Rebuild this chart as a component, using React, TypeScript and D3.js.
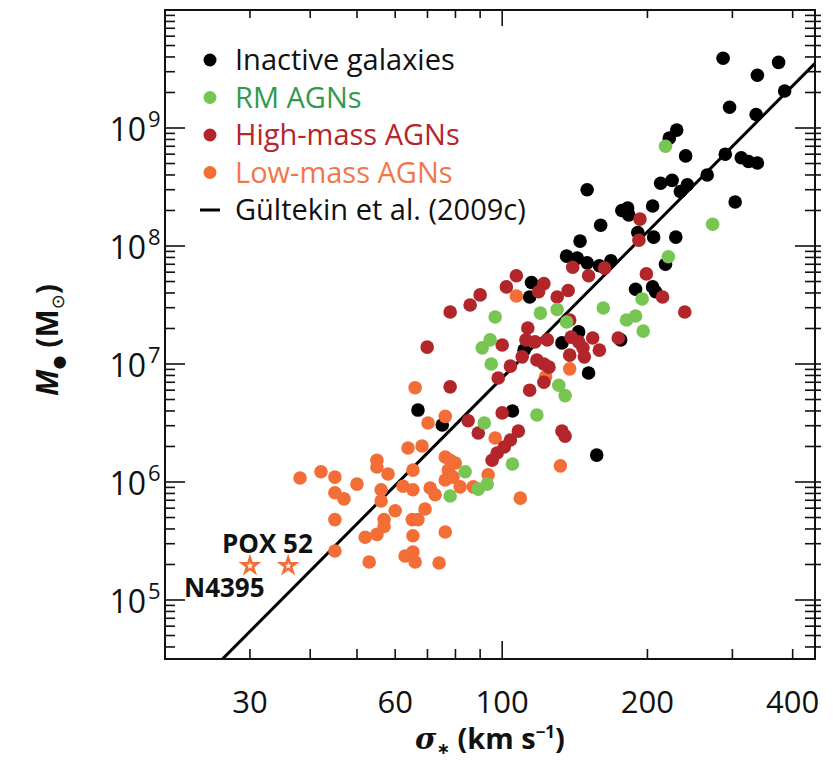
import React from "react";
import * as d3 from "d3";

// sigma (km/s), black-hole mass (Msun)
const inactive: [number, number][] = [
  [287, 3.9e9], [374, 3.6e9], [338, 2.8e9], [385, 2.06e9], [296, 1.5e9], [336, 1.3e9],
  [230, 9.6e8], [222, 8.2e8], [240, 5.8e8], [290, 6.0e8], [313, 5.6e8], [324, 5.2e8],
  [338, 5.05e8], [213, 3.4e8], [225, 3.6e8], [242, 3.3e8], [234, 2.9e8], [266, 4.0e8],
  [150, 3.0e8], [304, 2.36e8], [205, 2.18e8], [177, 2.0e8], [182, 2.1e8], [183, 1.83e8],
  [160, 1.5e8], [191, 1.3e8], [206, 1.19e8], [229, 1.19e8], [145, 1.1e8], [136, 8.2e7],
  [143, 7.9e7], [150, 7.2e7], [168, 7.5e7], [159, 6.8e7], [218, 7.0e7], [115, 4.9e7],
  [189, 4.3e7], [205, 4.5e7], [208, 4.1e7], [114, 3.7e7], [144, 1.87e7], [133, 1.51e7],
  [111, 1.31e7], [176, 1.6e7], [151, 8.4e6], [105, 4.0e6], [157, 1.69e6], [66.9, 4.07e6],
  [75.1, 3.04e6],
];

const rmAgn: [number, number][] = [
  [218, 7.0e8], [273, 1.53e8], [221, 8.1e7], [120, 2.7e7], [130, 2.9e7], [136, 2.27e7],
  [162, 2.98e7], [195, 3.56e7], [181, 2.36e7], [189, 2.55e7], [196, 1.9e7], [131, 6.6e6],
  [135, 5.4e6], [118, 3.7e6], [105, 1.42e6], [96.7, 2.5e7], [94.4, 1.6e7], [90.9, 1.37e7],
  [94.9, 1.0e7], [91.8, 3.16e6], [83.8, 1.22e6], [78.0, 7.6e5], [89.2, 8.7e5], [93.1, 9.6e5],
];

const highMass: [number, number][] = [
  [193, 1.69e8], [192, 1.12e8], [140, 6.6e7], [151, 5.6e7], [163, 6.5e7], [199, 5.8e7],
  [107, 5.6e7], [102, 4.5e7], [122, 4.8e7], [137, 4.2e7], [119, 4.1e7], [130, 3.7e7],
  [215, 3.7e7], [239, 2.76e7], [138, 2.36e7], [113, 2.02e7], [112, 1.6e7], [100, 1.45e7],
  [117, 1.54e7], [124, 1.6e7], [139, 1.69e7], [144, 1.54e7], [154, 1.66e7], [159, 1.31e7],
  [147, 1.37e7], [138, 1.19e7], [148, 1.15e7], [174, 1.66e7], [110, 1.15e7], [104, 9.6e6],
  [118, 1.08e7], [122, 1.0e7], [125, 9.4e6], [98.1, 7.6e6], [122, 7.0e6], [114, 6.0e6],
  [100, 3.85e6], [108, 2.7e6], [104, 2.27e6], [101, 1.98e6], [97.6, 1.76e6], [95.3, 1.53e6],
  [133, 2.7e6], [135, 2.45e6], [90.0, 3.85e7], [85.8, 3.16e7], [78.0, 2.76e7], [69.9, 1.39e7],
  [78.0, 6.4e6], [85.0, 3.3e6], [89.2, 2.6e6],
];

const lowMass: [number, number][] = [
  [107, 3.77e7], [138, 9.1e6], [123, 7.8e6], [132, 1.37e6], [66.0, 6.3e6], [76.2, 3.6e6],
  [70.2, 3.16e6], [96.7, 2.36e6], [63.8, 1.94e6], [68.2, 2.02e6], [55.0, 1.53e6], [55.0, 1.34e6],
  [58.0, 1.17e6], [65.3, 1.26e6], [76.2, 1.63e6], [78.0, 1.53e6], [79.9, 1.45e6], [77.3, 1.26e6],
  [38.1, 1.08e6], [42.1, 1.22e6], [45.0, 1.1e6], [50.0, 9.6e5], [45.0, 8.1e5], [47.0, 7.2e5],
  [62.3, 9.2e5], [65.3, 8.6e5], [56.1, 8.6e5], [56.1, 6.9e5], [70.9, 8.9e5], [72.6, 7.8e5],
  [76.2, 1.04e6], [79.1, 1.1e6], [81.8, 9.1e5], [60.0, 5.7e5], [56.9, 4.8e5], [56.9, 4.2e5],
  [55.0, 3.6e5], [52.0, 3.4e5], [65.1, 4.8e5], [66.9, 4.8e5], [69.2, 5.9e5], [65.3, 3.5e5],
  [45.0, 4.8e5], [45.0, 2.6e5], [53.0, 2.1e5], [62.9, 2.36e5], [65.3, 2.55e5], [66.0, 2.1e5],
  [74.0, 2.06e5], [76.2, 3.77e5], [87.1, 9.1e5], [93.5, 1.15e6], [109, 7.3e5],
];

const specialNames = ["N4395", "POX 52"];
const specialSigma = [30, 36];
const specialMass = [1.95e5, 1.95e5];

const xTickValues = [30, 40, 50, 60, 70, 80, 90, 100, 200, 300, 400];
const xMajorTicks = [100];
const xTickLabels = [30, 60, 100, 200, 400];
const yTickExponents = [5, 6, 7, 8, 9];

// Gültekin et al. (2009c) relation as drawn: log M = alpha + beta log(sigma/200)
const fitAlpha = 8.12;
const fitBeta = 4.11;

const legendLabels = ["Inactive galaxies", "RM AGNs", "High-mass AGNs", "Low-mass AGNs", "Gültekin et al. (2009c)"];
const dotColors = ["#000000", "#77c653", "#b2252a", "#f26e36"];
const textColors = ["#111111", "#2f9a4b", "#b5252b", "#f07848", "#111111"];

const W = 835, H = 763;
const L = 165, R = 815, T = 10, B = 659;
const FONT = "'Open Sans', 'DejaVu Sans', sans-serif";

export default function App() {
  const x = d3.scaleLog().domain([20, 445]).range([L, R]);
  const y = d3.scaleLog().domain([Math.pow(10, 4.5), 1e10]).range([B, T]);

  const yTicks: { v: number; major: boolean }[] = [];
  for (let e = 4; e <= 9; e++) {
    for (let k = 1; k <= 9; k++) {
      const v = k * Math.pow(10, e);
      if (v >= Math.pow(10, 4.5) && v < 1e10) yTicks.push({ v, major: k === 1 });
    }
  }

  const fitLine = d3.line<number>()
    .x((s) => x(s))
    .y((s) => y(Math.pow(10, fitAlpha + fitBeta * Math.log10(s / 200))));

  const series = [inactive, lowMass, highMass, rmAgn];
  const seriesColor = [dotColors[0], dotColors[3], dotColors[2], dotColors[1]];
  const star = d3.symbol().type(d3.symbolStar).size(70)();

  return (
    <svg width={W} height={H} style={{ position: "absolute", left: 0, top: 0, background: "#fff" }} fontFamily={FONT}>
      <defs>
        <clipPath id="plotclip">
          <rect x={L} y={T} width={R - L} height={B - T} />
        </clipPath>
      </defs>
      <rect x={0} y={0} width={W} height={H} fill="#fff" />

      {/* fit line */}
      <path d={fitLine([20, 445]) || ""} stroke="#000" strokeWidth={3} fill="none" clipPath="url(#plotclip)" />

      {/* points */}
      <g clipPath="url(#plotclip)">
        {series.map((data, si) =>
          data.map(([s, m], i) => (
            <circle key={si + "-" + i} cx={x(s)} cy={y(m)} r={6.8} fill={seriesColor[si]} />
          ))
        )}
        {specialSigma.map((s, i) => (
          <path key={"st" + i} d={star || ""} transform={`translate(${x(s)},${y(specialMass[i])})`}
            fill="#fff" stroke={dotColors[3]} strokeWidth={2.6} />
        ))}
      </g>

      {/* special labels */}
      <text x={222} y={553} fontSize={26} fontWeight="bold" fill="#111">{specialNames[1]}</text>
      <text x={184} y={597} fontSize={26} fontWeight="bold" fill="#111">{specialNames[0]}</text>

      {/* frame */}
      <rect x={L} y={T} width={R - L} height={B - T} fill="none" stroke="#111" strokeWidth={2} />

      {/* x ticks */}
      {xTickValues.map((v) => {
        const len = xMajorTicks.includes(v) ? 18 : 10;
        return (
          <g key={"xt" + v}>
            <line x1={x(v)} x2={x(v)} y1={B} y2={B - len} stroke="#111" strokeWidth={1.6} />
            <line x1={x(v)} x2={x(v)} y1={T} y2={T + len - 2} stroke="#111" strokeWidth={1.6} />
          </g>
        );
      })}
      {xTickLabels.map((v) => (
        <text key={"xl" + v} x={x(v)} y={713} fontSize={31} textAnchor="middle" fill="#111">{v}</text>
      ))}

      {/* y ticks */}
      {yTicks.map((t) => {
        const len = t.major ? 20 : 10;
        return (
          <g key={"yt" + t.v}>
            <line x1={L} x2={L + len} y1={y(t.v)} y2={y(t.v)} stroke="#111" strokeWidth={1.6} />
            <line x1={R - len} x2={R + 6} y1={y(t.v)} y2={y(t.v)} stroke="#111" strokeWidth={1.6} />
          </g>
        );
      })}
      {yTickExponents.map((e) => (
        <text key={"yl" + e} x={146} y={y(Math.pow(10, e)) + 13} fontSize={32} textAnchor="end" fill="#111">
          10
        </text>
      ))}
      {yTickExponents.map((e) => (
        <text key={"ye" + e} x={148} y={y(Math.pow(10, e)) - 1} fontSize={22} fill="#111">{e}</text>
      ))}

      {/* axis titles */}
      <text x={490} y={749} fontSize={29} fontWeight="bold" textAnchor="middle" fill="#111">
        <tspan fontStyle="italic" fontFamily="'DejaVu Serif', serif">σ</tspan>
        <tspan fontSize={16} dy={5}>∗</tspan>
        <tspan dy={-5}> (km s</tspan>
        <tspan fontSize={17} dy={-11}>−1</tspan>
        <tspan dy={11}>)</tspan>
      </text>
      <text transform="translate(58,340) rotate(-90)" fontSize={30} fontWeight="bold" textAnchor="middle" fill="#111">
        <tspan fontStyle="italic">M</tspan>
        <tspan fontSize={16} dy={6}>●</tspan>
        <tspan dy={-6}> (M</tspan>
        <tspan fontSize={18} dy={6} fontFamily="'DejaVu Sans', sans-serif" fontWeight="normal">⊙</tspan>
        <tspan dy={-6}>)</tspan>
      </text>

      {/* legend */}
      {legendLabels.map((lab, i) => {
        const cy = 60 + i * 37.5;
        return (
          <g key={"lg" + i}>
            {i < 4 ? (
              <circle cx={210} cy={cy} r={6.5} fill={dotColors[i]} />
            ) : (
              <line x1={200} x2={220} y1={cy} y2={cy} stroke="#000" strokeWidth={3} />
            )}
            <text x={235} y={cy + 10} fontSize={29} fill={textColors[i]}>{lab}</text>
          </g>
        );
      })}
    </svg>
  );
}
